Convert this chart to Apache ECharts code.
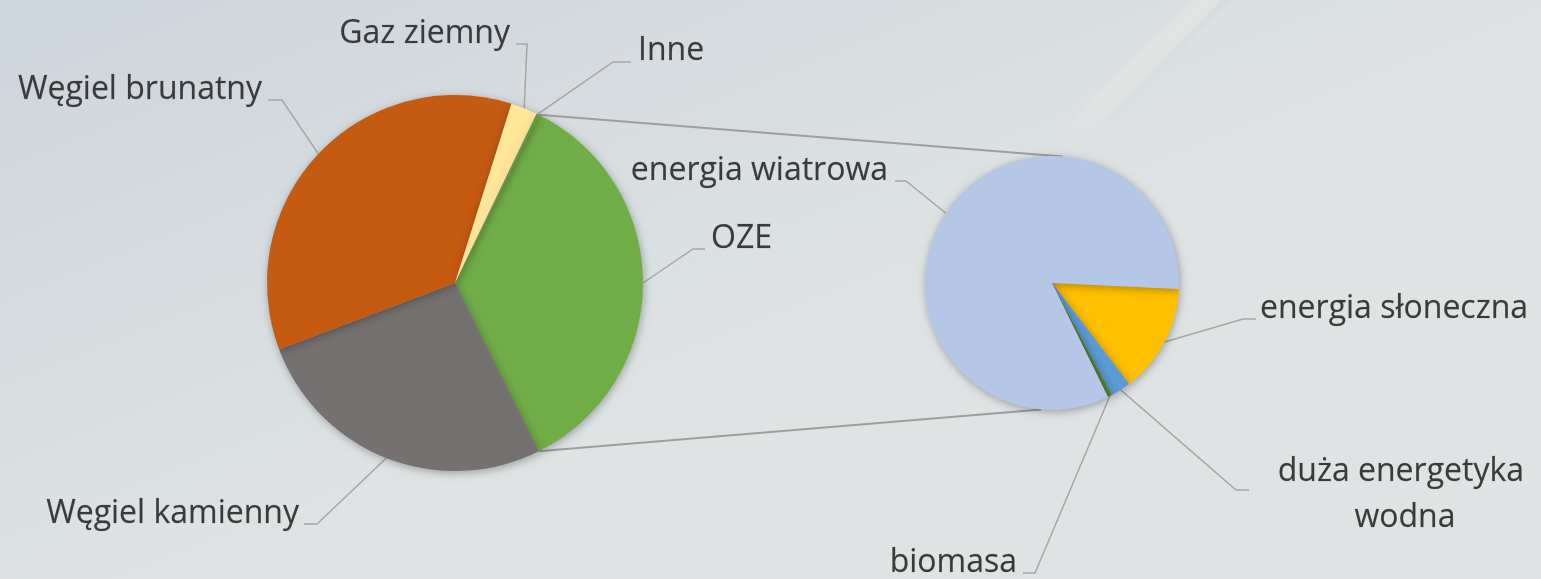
<!DOCTYPE html>
<html>
<head>
<meta charset="utf-8">
<script src="https://cdn.jsdelivr.net/npm/echarts@6/dist/echarts.min.js"></script>
<style>
html,body{margin:0;padding:0;width:1541px;height:579px;overflow:hidden;background:#d6dce0}
#c{width:1541px;height:579px}
</style>
</head>
<body>
<div id="c"></div>
<script>
// ---- data ----
const mainNames = ['OZE', 'Węgiel kamienny', 'Węgiel brunatny', 'Gaz ziemny', 'Inne'];
const mainValues = [35.3, 26.6, 35.6, 2.3, 0.2];
const ozeNames = ['energia słoneczna', 'duża energetyka wodna', 'biomasa', 'energia wiatrowa'];
const ozeValues = [4.9, 0.9, 0.2, 29.3];

// ---- styles ----
const mainColors = ['#70AD47', '#767171', '#C55A11', '#FFE699', '#5E9A3A'];
const ozeColors = ['#FFC000', '#5B9BD5', '#548235', '#B4C7E7'];
const FONT = "'Open Sans', 'Noto Sans', sans-serif";
const TEXT = '#3a3a3a';
const LINE = '#a6a6a6';

// ---- layout ----
const mainPie = { cx: 455, cy: 283, r: 188 };
const subPie = { cx: 1052, cy: 283, r: 127 };
const subStartAngle = -2.7;
const connectorTilt = 4.8; // degrees off vertical on the secondary pie

// label anchor positions (layout only)
const labelPos = {
  'OZE': { x: 711, y: 239, align: 'left', lineY: 249, end: 705, bend: 693 },
  'Węgiel kamienny': { x: 299, y: 514, align: 'right', lineY: 524, end: 304, bend: 317 },
  'Węgiel brunatny': { x: 262, y: 90, align: 'right', lineY: 100, end: 268, bend: 282 },
  'Gaz ziemny': { x: 510, y: 34, align: 'right', lineY: 44, end: 516, bend: 527 },
  'Inne': { x: 638, y: 51, align: 'left', lineY: 62, end: 631, bend: 613 },
  'energia słoneczna': { x: 1260, y: 309, align: 'left', lineY: 319, end: 1256, bend: 1243 },
  'duża energetyka wodna': { x: 1405, y: 495, align: 'center', lineY: 490, end: 1249, bend: 1236 },
  'biomasa': { x: 1017, y: 563, align: 'right', lineY: 573, end: 1023, bend: 1035 },
  'energia wiatrowa': { x: 888, y: 171, align: 'right', lineY: 181, end: 895, bend: 906 }
};

const chart = echarts.init(document.getElementById('c'), null, { renderer: 'canvas' });

const sumMain = mainValues.reduce((a, b) => a + b, 0);
const mainStartAngle = mainValues[0] / sumMain * 180; // centre "OZE" on the horizontal

function buildItems(names, values, colors) {
  return names.map((n, i) => {
    const item = { name: n, value: values[i], itemStyle: { color: colors[i] } };
    if (n === 'duża energetyka wodna') {
      item.label = { width: 300, overflow: 'break', lineHeight: 46, align: 'center' };
    }
    return item;
  });
}

function makeLayout(names) {
  return function (params) {
    const name = names[params.dataIndex];
    const p = labelPos[name];
    if (!p) return {};
    const res = { x: p.x, y: p.y, align: p.align, verticalAlign: 'middle' };
    if (params.labelLinePoints && params.labelLinePoints.length) {
      res.labelLinePoints = [params.labelLinePoints[0], [p.bend, p.lineY], [p.end, p.lineY]];
    }
    return res;
  };
}

const commonLabel = {
  show: true,
  position: 'outside',
  formatter: '{b}',
  fontFamily: FONT,
  fontSize: 32,
  color: TEXT,
  textBorderColor: 'rgba(58,58,58,0.35)',
  textBorderWidth: 0.4,
  width: 460,
  overflow: 'none',
  lineHeight: 44
};
const commonLine = { show: true, smooth: false, lineStyle: { color: LINE, width: 1.5 } };
const shadowStyle = {
  borderWidth: 0,
  shadowBlur: 8,
  shadowColor: 'rgba(0,0,0,0.30)',
  shadowOffsetX: 1,
  shadowOffsetY: 2
};

// connector lines (computed from pie geometry)
const a = mainStartAngle * Math.PI / 180;
const t = connectorTilt * Math.PI / 180;
const lt = [mainPie.cx + mainPie.r * Math.cos(a), mainPie.cy - mainPie.r * Math.sin(a)];
const lb = [mainPie.cx + mainPie.r * Math.cos(a), mainPie.cy + mainPie.r * Math.sin(a)];
const rt = [subPie.cx + subPie.r * Math.sin(t), subPie.cy - subPie.r * Math.cos(t)];
const rb = [subPie.cx - subPie.r * Math.sin(t), subPie.cy + subPie.r * Math.cos(t)];

const option = {
  animation: false,
  graphic: [
    {
      type: 'rect', z: -10, silent: true,
      shape: { x: 0, y: 0, width: 1541, height: 579 },
      style: {
        fill: {
          type: 'linear', x: 0, y: 0, x2: 0.15, y2: 1,
          colorStops: [
            { offset: 0, color: '#ccd4dc' },
            { offset: 0.5, color: '#d6dcdf' },
            { offset: 1, color: '#dfe3e4' }
          ]
        }
      }
    },
    {
      type: 'line', z: -5, silent: true,
      shape: { x1: 1062, y1: 145, x2: 1212, y2: -5 },
      style: {
        lineWidth: 22,
        lineCap: 'round',
        stroke: {
          type: 'linear', x: 0, y: 1, x2: 0, y2: 0,
          colorStops: [
            { offset: 0, color: 'rgba(232,232,226,0)' },
            { offset: 0.4, color: 'rgba(232,232,226,0.32)' },
            { offset: 1, color: 'rgba(234,232,224,0.42)' }
          ]
        },
        shadowBlur: 18,
        shadowColor: 'rgba(232,232,226,0.6)'
      }
    },
    {
      type: 'line', z: -4, silent: true,
      shape: { x1: 1078, y1: 150, x2: 1230, y2: -5 },
      style: {
        lineWidth: 6,
        stroke: {
          type: 'linear', x: 0, y: 1, x2: 0, y2: 0,
          colorStops: [
            { offset: 0, color: 'rgba(190,215,225,0)' },
            { offset: 1, color: 'rgba(190,215,225,0.25)' }
          ]
        },
        shadowBlur: 8,
        shadowColor: 'rgba(190,215,225,0.3)'
      }
    },
    {
      type: 'line', z: 1, silent: true,
      shape: { x1: lt[0], y1: lt[1], x2: rt[0], y2: rt[1] },
      style: { stroke: '#9e9e9e', lineWidth: 2 }
    },
    {
      type: 'line', z: 1, silent: true,
      shape: { x1: lb[0], y1: lb[1], x2: rb[0], y2: rb[1] },
      style: { stroke: '#9e9e9e', lineWidth: 2 }
    }
  ],
  series: [
    {
      type: 'pie',
      z: 3,
      center: [mainPie.cx, mainPie.cy],
      radius: [0, mainPie.r],
      startAngle: mainStartAngle,
      clockwise: true,
      avoidLabelOverlap: false,
      minShowLabelAngle: 0,
      data: buildItems(mainNames, mainValues, mainColors),
      itemStyle: shadowStyle,
      label: commonLabel,
      labelLine: commonLine,
      labelLayout: makeLayout(mainNames),
      emphasis: { disabled: true }
    },
    {
      type: 'pie',
      z: 3,
      center: [subPie.cx, subPie.cy],
      radius: [0, subPie.r],
      startAngle: subStartAngle,
      clockwise: true,
      avoidLabelOverlap: false,
      minShowLabelAngle: 0,
      data: buildItems(ozeNames, ozeValues, ozeColors),
      itemStyle: shadowStyle,
      label: commonLabel,
      labelLine: commonLine,
      labelLayout: makeLayout(ozeNames),
      emphasis: { disabled: true }
    }
  ]
};

chart.setOption(option);
</script>
</body>
</html>
